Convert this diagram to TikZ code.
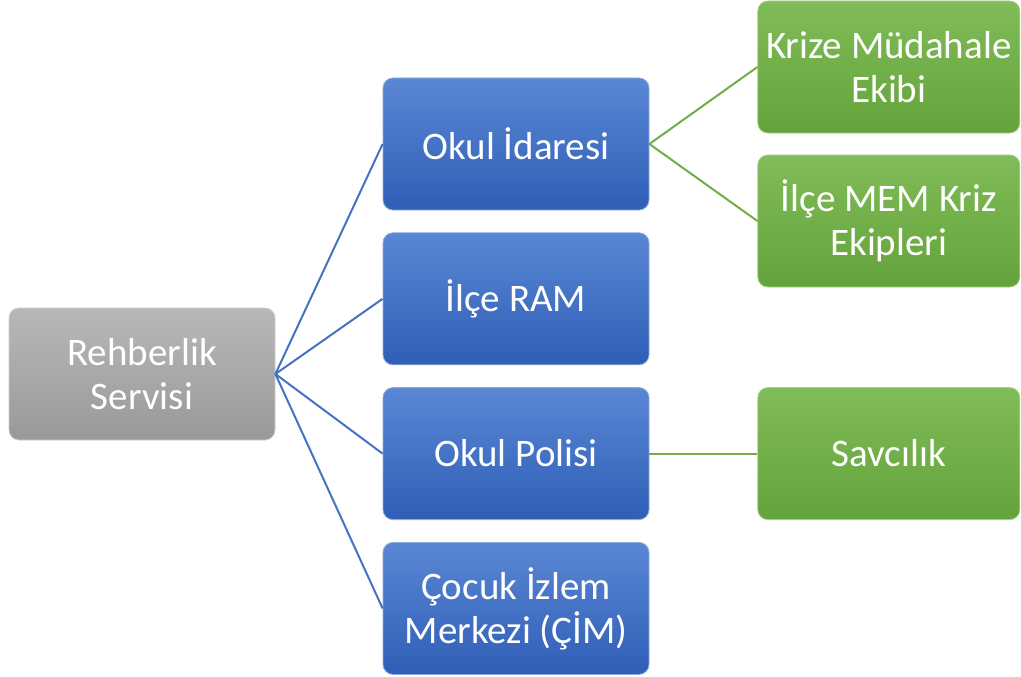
\documentclass[tikz,border=0pt]{standalone}
\usepackage{fontspec}
\setmainfont{Carlito}
\usepackage{tikz}
\usetikzlibrary{positioning}
\definecolor{grayTop}{HTML}{B8B8B8}
\definecolor{grayBot}{HTML}{999999}
\definecolor{blueTop}{HTML}{5A87D4}
\definecolor{blueBot}{HTML}{2F5EB6}
\definecolor{greenTop}{HTML}{80BC58}
\definecolor{greenBot}{HTML}{64A33B}
\definecolor{blueLine}{HTML}{4472C4}
\definecolor{greenLine}{HTML}{70AD47}

\begin{document}
\begin{tikzpicture}[
            x=1pt, y=-1pt,
            node distance=22pt and 108pt,
            box/.style={rounded corners=10pt, minimum width=266pt, minimum height=132pt,
                inner sep=2pt, align=center, text=white, font=\fontsize{39}{44}\selectfont},
            rootbox/.style={box, top color=grayTop, bottom color=grayBot, draw=gray!40, line width=0.8pt},
            bluebox/.style={box, top color=blueTop, bottom color=blueBot, draw=blueTop!70!white, line width=0.8pt},
            greenbox/.style={box, minimum width=262pt, top color=greenTop, bottom color=greenBot, draw=greenTop!70!white, line width=0.8pt},
            blueedge/.style={draw=blueLine, line width=2pt},
            greenedge/.style={draw=greenLine, line width=2pt},
        ]
            \useasboundingbox (0,0) rectangle (1021,677);

            % Nodes
            \node[rootbox] (rehber) at (142,374) {Rehberlik\\Servisi};
            \node[bluebox] (idare) at (516,144) {Okul İdaresi};
            \node[bluebox, below=of idare] (ram) {İlçe RAM};
            \node[bluebox, below=of ram] (polis) {Okul Polisi};
            \node[bluebox, below=of polis] (cim) {Çocuk İzlem\\Merkezi (ÇİM)};
            \node[greenbox, right=of idare, yshift=77pt] (kriz) {Krize Müdahale\\Ekibi};
            \node[greenbox, right=of idare, yshift=-77pt] (mem) {İlçe MEM Kriz\\Ekipleri};
            \node[greenbox, right=of polis] (savci) {Savcılık};

            % Connectors
            \foreach \child in {idare, ram, polis, cim}
                \draw[blueedge] (rehber.east) -- (\child.west);
            \draw[greenedge] (idare.east) -- (kriz.west);
            \draw[greenedge] (idare.east) -- (mem.west);
            \draw[greenedge] (polis.east) -- (savci.west);

\end{tikzpicture}
\end{document}
